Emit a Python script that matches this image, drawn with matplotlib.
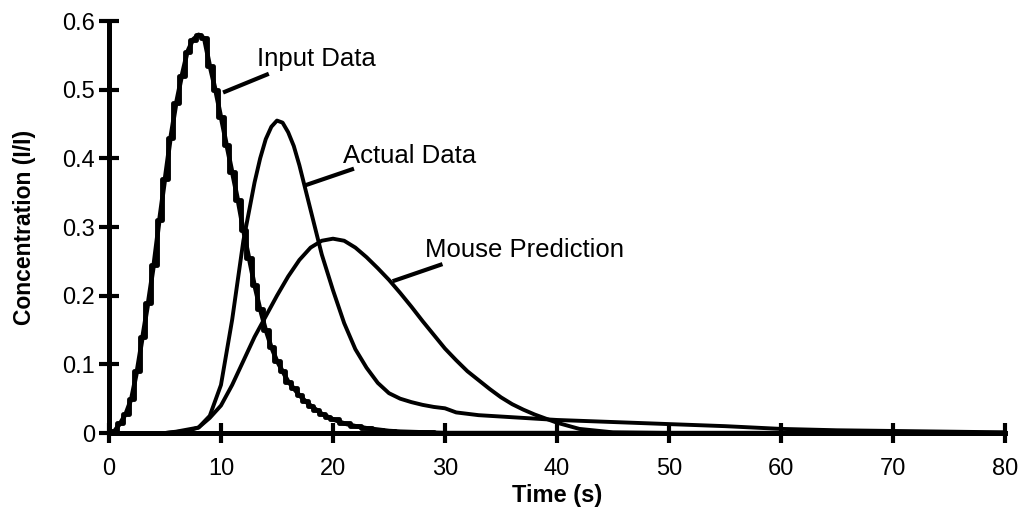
import numpy as np
import matplotlib.pyplot as plt

plt.rcParams['font.family'] = ['Liberation Sans', 'DejaVu Sans']

# input data (read every 0.5 s)
t_in = [0, 0.5, 1, 1.5, 2, 2.5, 3, 3.5, 4, 4.5, 5, 5.5, 6, 6.5, 7, 7.5, 8, 8.5,
        9, 9.5, 10, 10.5, 11, 11.5, 12, 12.5, 13, 13.5, 14, 14.5, 15, 15.5, 16,
        16.5, 17, 17.5, 18, 18.5, 19, 19.5, 20, 21, 22, 23, 24, 25, 26, 28, 30, 35, 80]
c_in = [0, 0.003, 0.014, 0.028, 0.05, 0.09, 0.14, 0.19, 0.245, 0.31, 0.37, 0.43,
        0.48, 0.52, 0.555, 0.573, 0.58, 0.575, 0.535, 0.5, 0.46, 0.42, 0.38, 0.34,
        0.295, 0.255, 0.215, 0.18, 0.15, 0.125, 0.105, 0.09, 0.075, 0.065, 0.055,
        0.047, 0.04, 0.034, 0.028, 0.024, 0.02, 0.014, 0.01, 0.007, 0.005, 0.003,
        0.002, 0.001, 0.0, 0.0, 0.0]

# actual data
t_act = [0, 5, 7, 8, 9, 10, 11, 12, 13, 13.5, 14, 14.5, 15, 15.5, 16, 16.5, 17, 18,
         19, 20, 21, 22, 23, 24, 25, 26, 27, 28, 29, 30, 31, 33, 36, 40, 45, 50,
         55, 60, 65, 70, 75, 80]
c_act = [0, 0, 0.003, 0.008, 0.025, 0.07, 0.165, 0.28, 0.365, 0.4, 0.428, 0.446,
         0.455, 0.452, 0.438, 0.418, 0.39, 0.325, 0.26, 0.208, 0.16, 0.122, 0.095,
         0.073, 0.058, 0.05, 0.045, 0.041, 0.038, 0.036, 0.03, 0.026, 0.023, 0.019,
         0.016, 0.013, 0.01, 0.006, 0.004, 0.003, 0.002, 0.001]

# mouse prediction
t_mouse = [0, 5, 6, 8, 9, 10, 11, 12, 13, 14, 15, 16, 17, 18, 19, 20, 21, 22, 23,
           24, 25, 26, 27, 28, 29, 30, 31, 32, 33, 34, 35, 36, 37, 38, 40, 42, 45, 50, 80]
c_mouse = [0, 0, 0.002, 0.008, 0.022, 0.04, 0.07, 0.105, 0.14, 0.17, 0.2, 0.228,
           0.252, 0.27, 0.28, 0.283, 0.28, 0.27, 0.256, 0.24, 0.223, 0.204, 0.184,
           0.163, 0.143, 0.123, 0.106, 0.09, 0.077, 0.064, 0.052, 0.042, 0.034,
           0.027, 0.015, 0.006, 0.001, 0, 0]

fig = plt.figure(figsize=(10.25, 5.11), dpi=100)
ax = fig.add_axes([0.1063, 0.1526, 0.8742, 0.8063])

ax.plot(t_in, c_in, color='black', lw=3.5, drawstyle='steps-mid', zorder=3)
ax.plot(t_in, c_in, color='black', lw=3.2, zorder=3)
ax.plot(t_act, c_act, color='black', lw=2.8)
ax.plot(t_mouse, c_mouse, color='black', lw=2.8)

# labels with leader lines
ax.plot([10.36, 14.1], [0.497, 0.522], color='black', lw=3)
ax.text(13.2, 0.544, 'Input Data', fontsize=18.5, va='center', ha='left')
ax.plot([17.66, 21.7], [0.3615, 0.384], color='black', lw=3)
ax.text(20.9, 0.404, 'Actual Data', fontsize=18.5, va='center', ha='left')
ax.plot([25.5, 29.6], [0.222, 0.245], color='black', lw=3)
ax.text(28.2, 0.266, 'Mouse Prediction', fontsize=18.5, va='center', ha='left')

ax.set_xlim(0, 80)
ax.set_ylim(0, 0.6)
ax.set_xticks(range(0, 81, 10))
ax.set_yticks([0, 0.1, 0.2, 0.3, 0.4, 0.5, 0.6])
ax.set_yticklabels(['0', '0.1', '0.2', '0.3', '0.4', '0.5', '0.6'])
ax.spines['top'].set_visible(False)
ax.spines['right'].set_visible(False)
ax.spines['left'].set_linewidth(3.6)
ax.spines['bottom'].set_linewidth(3.6)
ax.tick_params(direction='inout', length=14, width=3, labelsize=17)
ax.tick_params(axis='x', pad=11)
ax.tick_params(axis='y', pad=3)
ax.set_xlabel('Time (s)', fontsize=17, fontweight='bold', labelpad=3)
ax.set_ylabel('Concentration (I/I)', fontsize=16.5, fontweight='bold', labelpad=19)

fig.savefig('out.png', dpi=100)
